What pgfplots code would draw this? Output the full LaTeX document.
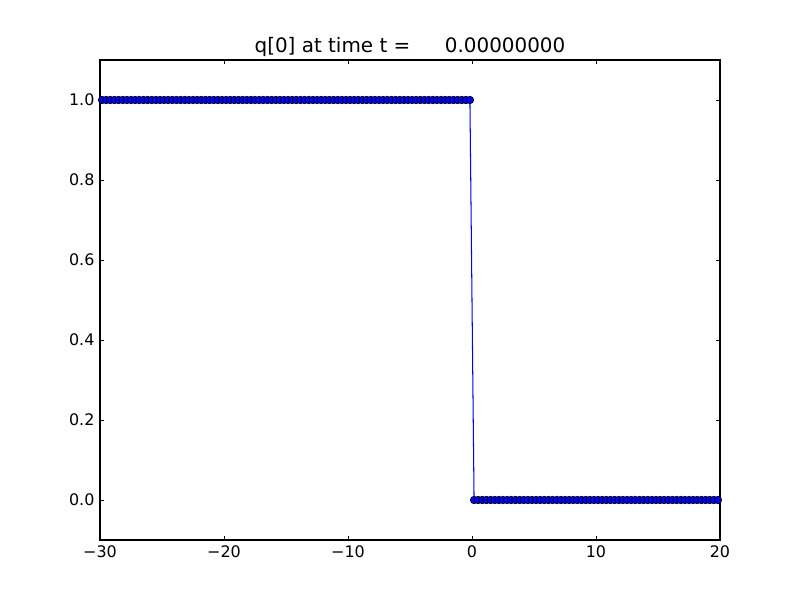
\documentclass[border=0pt]{standalone}
\usepackage{pgfplots}
\pgfplotsset{compat=1.18}
\usepackage{fontspec}
\setmainfont{DejaVu Sans}
\begin{document}
\begin{tikzpicture}[x=1in,y=1in]
\useasboundingbox (0,0) rectangle (8,6);
\begin{axis}[
  at={(1in,0.6in)}, anchor=south west,
  scale only axis, width=6.2in, height=4.8in,
  xmin=-30, xmax=20, ymin=-0.1, ymax=1.1,
  xtick={-30,-20,-10,0,10,20},
  xticklabels={−30,−20,−10,0,10,20},
  ytick={0,0.2,0.4,0.6,0.8,1.0},
  yticklabels={0.0,0.2,0.4,0.6,0.8,1.0},
  tick align=inside, tick pos=both,
  major tick length=3.2pt,
  minor tick num=0,
  axis line style={line width=0.8pt},
  every tick/.style={black, line width=0.6pt},
  tick label style={font=\fontsize{11.5}{13}\selectfont},
  xticklabel style={yshift=-0.5pt},
  yticklabel style={xshift=-0.5pt},
  title={q[0] at time t =\hspace{25pt}0.00000000},
  title style={font=\fontsize{14.4}{17}\selectfont, at={(0.5,1)}, anchor=base, yshift=-0.5pt},
  clip=true,
]
\addplot[color=blue, line width=0.75pt, mark=*, mark size=2.7pt,
  mark options={fill=blue, draw=black, line width=0.5pt}]
table[row sep=\\]{
x y\\
-29.8333 1\\ -29.5 1\\ -29.1667 1\\ -28.8333 1\\ -28.5 1\\ -28.1667 1\\
-27.8333 1\\ -27.5 1\\ -27.1667 1\\ -26.8333 1\\ -26.5 1\\ -26.1667 1\\
-25.8333 1\\ -25.5 1\\ -25.1667 1\\ -24.8333 1\\ -24.5 1\\ -24.1667 1\\
-23.8333 1\\ -23.5 1\\ -23.1667 1\\ -22.8333 1\\ -22.5 1\\ -22.1667 1\\
-21.8333 1\\ -21.5 1\\ -21.1667 1\\ -20.8333 1\\ -20.5 1\\ -20.1667 1\\
-19.8333 1\\ -19.5 1\\ -19.1667 1\\ -18.8333 1\\ -18.5 1\\ -18.1667 1\\
-17.8333 1\\ -17.5 1\\ -17.1667 1\\ -16.8333 1\\ -16.5 1\\ -16.1667 1\\
-15.8333 1\\ -15.5 1\\ -15.1667 1\\ -14.8333 1\\ -14.5 1\\ -14.1667 1\\
-13.8333 1\\ -13.5 1\\ -13.1667 1\\ -12.8333 1\\ -12.5 1\\ -12.1667 1\\
-11.8333 1\\ -11.5 1\\ -11.1667 1\\ -10.8333 1\\ -10.5 1\\ -10.1667 1\\
-9.8333 1\\ -9.5 1\\ -9.1667 1\\ -8.8333 1\\ -8.5 1\\ -8.1667 1\\
-7.8333 1\\ -7.5 1\\ -7.1667 1\\ -6.8333 1\\ -6.5 1\\ -6.1667 1\\
-5.8333 1\\ -5.5 1\\ -5.1667 1\\ -4.8333 1\\ -4.5 1\\ -4.1667 1\\
-3.8333 1\\ -3.5 1\\ -3.1667 1\\ -2.8333 1\\ -2.5 1\\ -2.1667 1\\
-1.8333 1\\ -1.5 1\\ -1.1667 1\\ -0.8333 1\\ -0.5 1\\ -0.1667 1\\
0.1667 0\\ 0.5 0\\ 0.8333 0\\ 1.1667 0\\ 1.5 0\\ 1.8333 0\\
2.1667 0\\ 2.5 0\\ 2.8333 0\\ 3.1667 0\\ 3.5 0\\ 3.8333 0\\
4.1667 0\\ 4.5 0\\ 4.8333 0\\ 5.1667 0\\ 5.5 0\\ 5.8333 0\\
6.1667 0\\ 6.5 0\\ 6.8333 0\\ 7.1667 0\\ 7.5 0\\ 7.8333 0\\
8.1667 0\\ 8.5 0\\ 8.8333 0\\ 9.1667 0\\ 9.5 0\\ 9.8333 0\\
10.1667 0\\ 10.5 0\\ 10.8333 0\\ 11.1667 0\\ 11.5 0\\ 11.8333 0\\
12.1667 0\\ 12.5 0\\ 12.8333 0\\ 13.1667 0\\ 13.5 0\\ 13.8333 0\\
14.1667 0\\ 14.5 0\\ 14.8333 0\\ 15.1667 0\\ 15.5 0\\ 15.8333 0\\
16.1667 0\\ 16.5 0\\ 16.8333 0\\ 17.1667 0\\ 17.5 0\\ 17.8333 0\\
18.1667 0\\ 18.5 0\\ 18.8333 0\\ 19.1667 0\\ 19.5 0\\ 19.8333 0\\
};
\end{axis}
\end{tikzpicture}
\end{document}
